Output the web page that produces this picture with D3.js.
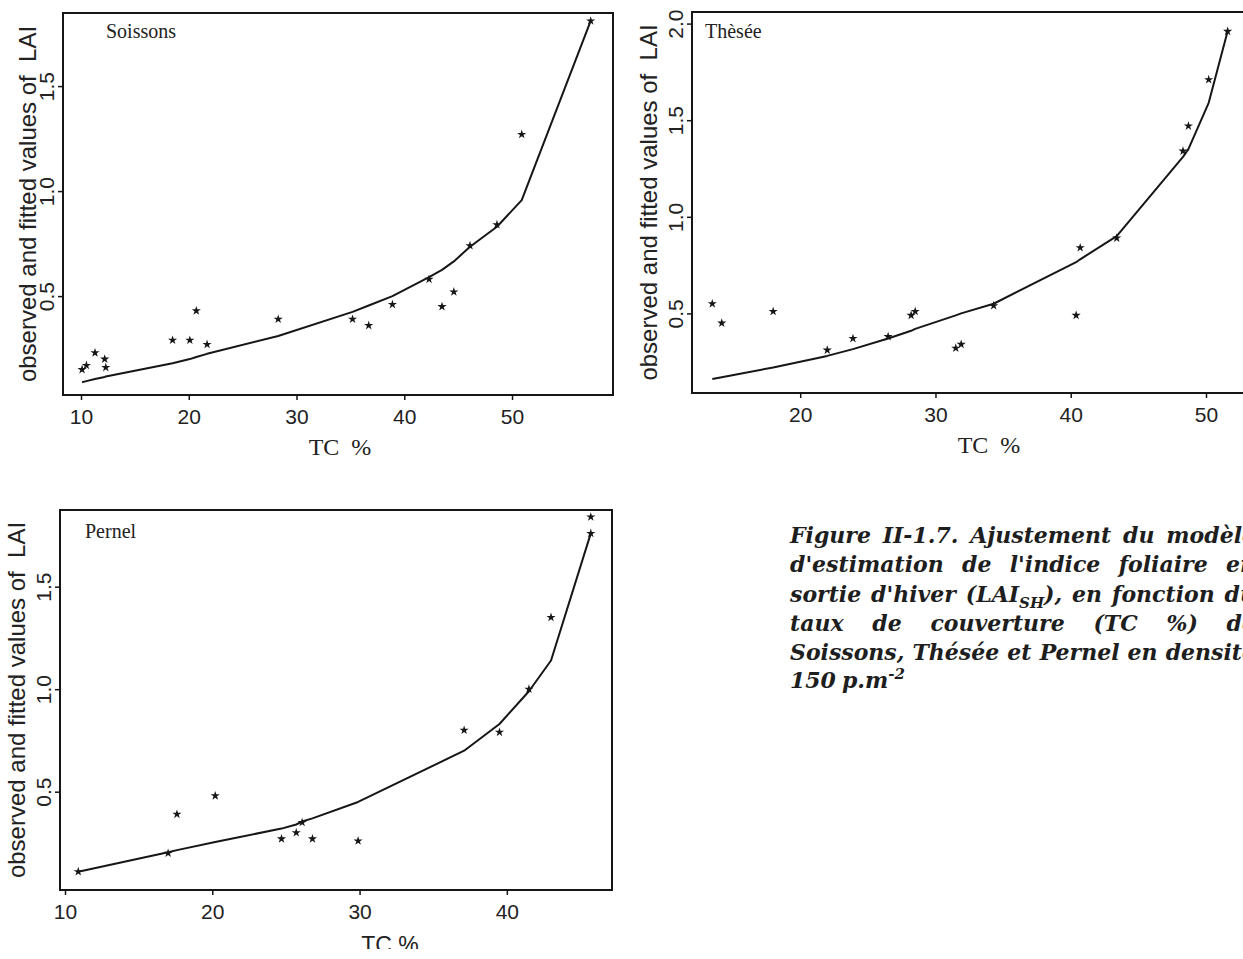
<!DOCTYPE html>
<html>
<head>
<meta charset="utf-8">
<script src="https://cdn.jsdelivr.net/npm/d3@7/dist/d3.min.js"></script>
<style>
  html, body { margin: 0; padding: 0; background: #fff; }
  svg { display: block; }
</style>
</head>
<body>
<svg id="fig" width="1243" height="959"></svg>
<script>
// ---- Soissons: canopy cover (TC %) vs observed / fitted LAI ----
const soissonsTC  = [10.1, 10.5, 11.3, 12.2, 12.3, 18.5, 20.1, 20.7, 21.7, 28.3, 35.2, 36.7, 38.9, 42.3, 43.5, 44.6, 46.1, 48.6, 50.9, 57.3];
const soissonsObs = [0.15, 0.17, 0.23, 0.20, 0.16, 0.29, 0.29, 0.43, 0.27, 0.39, 0.39, 0.36, 0.46, 0.58, 0.45, 0.52, 0.74, 0.84, 1.27, 1.81];
const soissonsFit = [0.09, 0.095, 0.105, 0.115, 0.117, 0.18, 0.20, 0.21, 0.225, 0.31, 0.425, 0.455, 0.50, 0.59, 0.625, 0.665, 0.735, 0.83, 0.957, 1.81];

// ---- Thèsée ----
const theseeTC  = [13.5, 14.2, 18.0, 22.0, 23.9, 26.5, 28.2, 28.5, 31.5, 31.9, 34.3, 40.4, 40.7, 43.4, 48.3, 48.7, 50.2, 51.6];
const theseeObs = [0.55, 0.45, 0.51, 0.31, 0.37, 0.38, 0.49, 0.51, 0.32, 0.34, 0.54, 0.49, 0.84, 0.89, 1.34, 1.47, 1.71, 1.96];
const theseeFit = [0.16, 0.17, 0.22, 0.28, 0.315, 0.37, 0.41, 0.42, 0.49, 0.50, 0.55, 0.765, 0.78, 0.90, 1.31, 1.35, 1.59, 1.96];

// ---- Pernel ----
const pernelTC  = [10.9, 17.0, 17.6, 20.2, 24.7, 25.7, 26.1, 26.8, 29.9, 37.1, 39.5, 41.5, 43.0, 45.7, 45.7];
const pernelObs = [0.11, 0.20, 0.39, 0.48, 0.27, 0.30, 0.35, 0.27, 0.26, 0.80, 0.79, 1.00, 1.35, 1.76, 1.84];
const pernelFit = [0.11, 0.205, 0.215, 0.255, 0.32, 0.34, 0.355, 0.37, 0.45, 0.70, 0.83, 0.99, 1.14, 1.76, 1.76];

// ---- axis ranges and tick values ----
const soissonsXDomain = [8.33, 59.37], soissonsYDomain = [0.029, 1.848];
const theseeXDomain   = [12.0, 53.18], theseeYDomain   = [0.088, 2.06];
const pernelXDomain   = [9.66, 47.14], pernelYDomain   = [0.0205, 1.874];
const soissonsXTicks = [10, 20, 30, 40, 50], soissonsYTicks = [0.5, 1.0, 1.5];
const theseeXTicks   = [20, 30, 40, 50],     theseeYTicks   = [0.5, 1.0, 1.5, 2.0];
const pernelXTicks   = [10, 20, 30, 40],     pernelYTicks   = [0.5, 1.0, 1.5];

const yTitle = "observed and fitted values of  LAI";

const captionLines = [
  "Figure II-1.7. Ajustement du modèle",
  "d'estimation de l'indice foliaire en",
  "sortie d'hiver (LAI_{SH}), en fonction du",
  "taux de couverture (TC %) de",
  "Soissons, Thésée et Pernel en densité",
  "150 p.m^{-2}"
];

const SANS = "'Liberation Sans', Arial, Helvetica, sans-serif";
const SERIF = "'Liberation Serif', 'Times New Roman', serif";
const INK = "#161616";

const svg = d3.select("#fig");

// the lower x title is only half printed: keep its upper part
svg.append("defs").append("clipPath").attr("id", "halfTitle")
  .append("rect").attr("x", 0).attr("y", 900).attr("width", 700).attr("height", 49);

const panels = [
  { label: "Soissons", tc: soissonsTC, obs: soissonsObs, fit: soissonsFit,
    xDomain: soissonsXDomain, yDomain: soissonsYDomain, xTicks: soissonsXTicks, yTicks: soissonsYTicks,
    box: { left: 63, right: 613, top: 13, bottom: 395 },
    labelAt: [106, 38], titleGap: 27, xTitle: { text: "TC  %", x: 340, y: 455, font: SERIF, size: 24 } },
  { label: "Thèsée", tc: theseeTC, obs: theseeObs, fit: theseeFit,
    xDomain: theseeXDomain, yDomain: theseeYDomain, xTicks: theseeXTicks, yTicks: theseeYTicks,
    box: { left: 692, right: 1249, top: 12, bottom: 393 },
    labelAt: [705, 38], titleGap: 35, xTitle: { text: "TC  %", x: 989, y: 453, font: SERIF, size: 24 } },
  { label: "Pernel", tc: pernelTC, obs: pernelObs, fit: pernelFit,
    xDomain: pernelXDomain, yDomain: pernelYDomain, xTicks: pernelXTicks, yTicks: pernelYTicks,
    box: { left: 60, right: 612, top: 510, bottom: 890 },
    labelAt: [85, 538], titleGap: 35, xTitle: { text: "TC %", x: 390, y: 953, font: SANS, size: 23, clip: "url(#halfTitle)" } }
];

const star = d3.symbol().type(d3.symbolStar).size(26);
const fmt = d3.format(".1f");

panels.forEach(p => {
  const b = p.box;
  const x = d3.scaleLinear().domain(p.xDomain).range([b.left, b.right]);
  const y = d3.scaleLinear().domain(p.yDomain).range([b.bottom, b.top]);
  const g = svg.append("g");

  // plot frame
  g.append("rect")
    .attr("x", b.left).attr("y", b.top)
    .attr("width", b.right - b.left).attr("height", b.bottom - b.top)
    .attr("fill", "none").attr("stroke", INK).attr("stroke-width", 2);

  // bottom axis
  const ax = g.append("g").attr("transform", `translate(0,${b.bottom})`)
    .call(d3.axisBottom(x).tickValues(p.xTicks).tickSize(5).tickFormat(d3.format("d")));
  ax.select(".domain").remove();
  ax.selectAll(".tick line").attr("stroke", INK).attr("stroke-width", 1.5);
  ax.selectAll(".tick text")
    .attr("y", 29).attr("dy", null)
    .attr("fill", "#222").style("font-family", SANS).style("font-size", "21px");

  // left axis with labels turned parallel to the axis
  const ay = g.append("g").attr("transform", `translate(${b.left},0)`)
    .call(d3.axisLeft(y).tickValues(p.yTicks).tickSize(5).tickFormat(fmt));
  ay.select(".domain").remove();
  ay.selectAll(".tick line").attr("stroke", INK).attr("stroke-width", 1.5);
  ay.selectAll(".tick text")
    .attr("x", null).attr("y", null).attr("dy", null)
    .attr("transform", "translate(-9,0) rotate(-90)")
    .attr("text-anchor", "middle")
    .attr("fill", "#222").style("font-family", SANS).style("font-size", "21px");

  // axis titles
  g.append("text")
    .attr("transform", `translate(${b.left - p.titleGap},${(b.top + b.bottom) / 2}) rotate(-90)`)
    .attr("text-anchor", "middle")
    .attr("fill", "#222").style("font-family", SANS).style("font-size", "24px")
    .style("white-space", "pre")
    .text(yTitle);
  g.append("text")
    .attr("x", p.xTitle.x).attr("y", p.xTitle.y)
    .attr("text-anchor", "middle")
    .attr("clip-path", p.xTitle.clip || null)
    .attr("fill", "#222").style("font-family", p.xTitle.font).style("font-size", p.xTitle.size + "px")
    .style("white-space", "pre")
    .text(p.xTitle.text);

  // variety name inside the frame
  g.append("text")
    .attr("x", p.labelAt[0]).attr("y", p.labelAt[1])
    .attr("fill", "#222").style("font-family", SERIF).style("font-size", "20px")
    .text(p.label);

  // fitted curve
  const pts = d3.zip(p.tc, p.fit).sort((a, c) => a[0] - c[0]);
  g.append("path")
    .attr("d", d3.line().x(d => x(d[0])).y(d => y(d[1]))(pts))
    .attr("fill", "none").attr("stroke", INK).attr("stroke-width", 2)
    .attr("stroke-linejoin", "round");

  // observed values
  g.selectAll("path.obs")
    .data(d3.zip(p.tc, p.obs))
    .join("path")
    .attr("class", "obs")
    .attr("transform", d => `translate(${x(d[0])},${y(d[1])})`)
    .attr("d", star)
    .attr("fill", INK);
});

// ---- figure caption, justified ----
const capFont = "'DejaVu Serif', serif";
const capLeft = 790, capRight = 1256;
const capBaselines = [543, 572, 602, 631, 660, 688];
const cap = svg.append("g")
  .attr("fill", "#1e1e1e")
  .style("font-family", capFont).style("font-size", "22px")
  .style("font-weight", "bold").style("font-style", "italic");

function parseWord(w) {
  const segs = [];
  const re = /(_\{[^}]*\}|\^\{[^}]*\})/g;
  let last = 0, m;
  while ((m = re.exec(w)) !== null) {
    if (m.index > last) segs.push({ kind: "n", text: w.slice(last, m.index) });
    segs.push({ kind: m[0][0] === "_" ? "sub" : "sup", text: m[0].slice(2, -1) });
    last = m.index + m[0].length;
  }
  if (last < w.length) segs.push({ kind: "n", text: w.slice(last) });
  return segs;
}

captionLines.forEach((line, i) => {
  const words = line.split(" ");
  const nodes = words.map(w => {
    const t = cap.append("text").attr("y", capBaselines[i]);
    let shift = 0;
    parseWord(w).forEach(s => {
      const target = s.kind === "sub" ? 6 : s.kind === "sup" ? -9 : 0;
      const ts = t.append("tspan").text(s.text);
      if (target !== shift) { ts.attr("dy", target - shift); shift = target; }
      if (s.kind !== "n") ts.style("font-size", "15px");
    });
    return t;
  });
  const widths = nodes.map(n => n.node().getComputedTextLength());
  const total = d3.sum(widths);
  const lastLine = i === captionLines.length - 1;
  const gap = lastLine || words.length < 2 ? 6 : Math.max(6, (capRight - capLeft - total) / (words.length - 1));
  let cx = capLeft;
  nodes.forEach((n, k) => { n.attr("x", cx); cx += widths[k] + gap; });
});
</script>
</body>
</html>
